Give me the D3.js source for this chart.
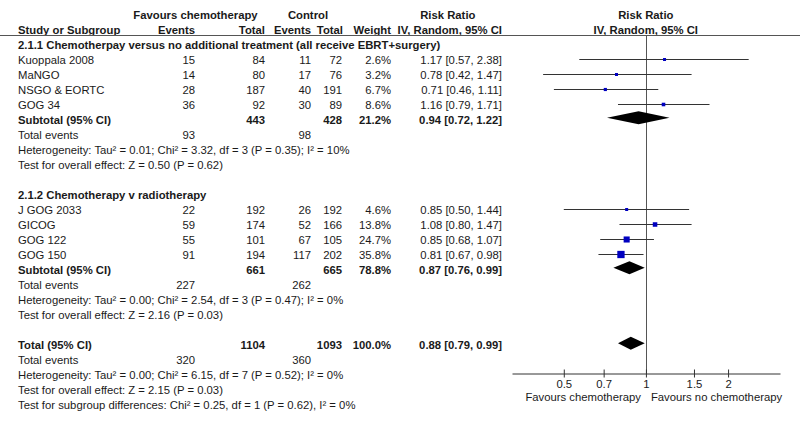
<!DOCTYPE html>
<html><head><meta charset="utf-8">
<script src="https://cdn.jsdelivr.net/npm/d3@7"></script>
<style>
body{margin:0;background:#fff}
text{font-family:"Liberation Sans",Arial,sans-serif;font-size:11.3px;fill:#1a1a1a}
text.b{font-weight:bold;font-size:11.3px}
</style>
</head><body><svg id="c" width="800" height="426"></svg>
<script>
// ---- data ----
const studyNames = ["Kuoppala 2008","MaNGO","NSGO & EORTC","GOG 34","J GOG 2033","GICOG","GOG 122","GOG 150"];
const studyGroup = [0,0,0,0,1,1,1,1];
const chemoEvents = [15,14,28,36,22,59,55,91];
const chemoTotal = [84,80,187,92,192,174,101,194];
const ctrlEvents = [11,17,40,30,26,52,67,117];
const ctrlTotal = [72,76,191,89,192,166,105,202];
const weights = [2.6,3.2,6.7,8.6,4.6,13.8,24.7,35.8];
const rr = [1.17,0.78,0.71,1.16,0.85,1.08,0.85,0.81];
const rrLo = [0.57,0.42,0.46,0.79,0.50,0.80,0.68,0.67];
const rrHi = [2.38,1.47,1.11,1.71,1.44,1.47,1.07,0.98];

const groupTitles = ["2.1.1 Chemotherpay versus no additional treatment (all receive EBRT+surgery)","2.1.2 Chemotherapy v radiotherapy"];
const subChemoTotal = [443,661];
const subCtrlTotal = [428,665];
const subWeight = [21.2,78.8];
const subRR = [0.94,0.87];
const subLo = [0.72,0.76];
const subHi = [1.22,0.99];
const subChemoEvents = [93,227];
const subCtrlEvents = [98,262];
const subHet = ["Heterogeneity: Tau\u00b2 = 0.01; Chi\u00b2 = 3.32, df = 3 (P = 0.35); I\u00b2 = 10%","Heterogeneity: Tau\u00b2 = 0.00; Chi\u00b2 = 2.54, df = 3 (P = 0.47); I\u00b2 = 0%"];
const subTest = ["Test for overall effect: Z = 0.50 (P = 0.62)","Test for overall effect: Z = 2.16 (P = 0.03)"];

const totalChemoTotal = 1104, totalCtrlTotal = 1093, totalWeight = 100.0;
const totalRR = 0.88, totalLo = 0.79, totalHi = 0.99;
const totalChemoEvents = 320, totalCtrlEvents = 360;
const totalHet = "Heterogeneity: Tau\u00b2 = 0.00; Chi\u00b2 = 6.15, df = 7 (P = 0.52); I\u00b2 = 0%";
const totalTest = "Test for overall effect: Z = 2.15 (P = 0.03)";
const subgroupTest = "Test for subgroup differences: Chi\u00b2 = 0.25, df = 1 (P = 0.62), I\u00b2 = 0%";

const tickValues = [0.5,0.7,1,1.5,2];
const leftLabel = "Favours chemotherapy", rightLabel = "Favours no chemotherapy";

// ---- layout ----
const svg = d3.select("#c");
const x = d3.scaleLog().domain([0.323,3.1]).range([512,780]);
const rowY = i => 45.3 + 15*i;
const COL = {name:18, ce:195, ct:265, ke:311, kt:342, w:391, rr:502};
const fmt2 = d3.format(".2f");
const rrText = (r,l,h) => `${fmt2(r)} [${fmt2(l)}, ${fmt2(h)}]`;

function txt(xp, yc, s, anchor, bold){
  svg.append("text").attr("x",xp).attr("y",yc+4).attr("text-anchor",anchor||"start")
    .attr("class",bold?"b":null).text(s);
}

// header
txt(195.5,15,"Favours chemotherapy","middle",true);
txt(308,15,"Control","middle",true);
txt(447.8,15,"Risk Ratio","middle",true);
txt(645.8,15,"Risk Ratio","middle",true);
txt(COL.name,30,"Study or Subgroup","start",true);
txt(COL.ce,30,"Events","end",true);
txt(COL.ct,30,"Total","end",true);
txt(311,30,"Events","end",true);
txt(343,30,"Total","end",true);
txt(COL.w,30,"Weight","end",true);
txt(COL.rr,30,"IV, Random, 95% CI","end",true);
txt(645.8,30,"IV, Random, 95% CI","middle",true);
svg.append("line").attr("x1",0).attr("x2",800).attr("y1",35.5).attr("y2",35.5).attr("stroke","#555").attr("stroke-width",1);

// vertical line at 1
const axisY = 373.5;
svg.append("line").attr("x1",Math.round(x(1))+0.5).attr("x2",Math.round(x(1))+0.5).attr("y1",36).attr("y2",axisY).attr("stroke","#555");

function diamond(r,l,h,yc){
  const hh = 6.5;
  svg.append("path").attr("d",`M${x(l)},${yc} L${x(r)},${yc-hh} L${x(h)},${yc} L${x(r)},${yc+hh} Z`).attr("fill","#000");
}

let row = 0;
[0,1].forEach(g=>{
  txt(COL.name,rowY(row),groupTitles[g],"start",true); row++;
  studyNames.forEach((n,i)=>{
    if(studyGroup[i]!==g) return;
    const yc = rowY(row);
    txt(COL.name,yc,n);
    txt(COL.ce,yc,chemoEvents[i],"end");
    txt(COL.ct,yc,chemoTotal[i],"end");
    txt(COL.ke,yc,ctrlEvents[i],"end");
    txt(COL.kt,yc,ctrlTotal[i],"end");
    txt(COL.w,yc,weights[i].toFixed(1)+"%","end");
    txt(COL.rr,yc,rrText(rr[i],rrLo[i],rrHi[i]),"end");
    const my = Math.round(yc-1.5)+0.5;
    svg.append("line").attr("x1",x(rrLo[i])).attr("x2",x(rrHi[i])).attr("y1",my).attr("y2",my).attr("stroke","#333");
    const s = Math.max(3,1.22*Math.sqrt(weights[i]));
    svg.append("rect").attr("x",x(rr[i])-s/2).attr("y",my-s/2).attr("width",s).attr("height",s).attr("fill","#0000c0");
    row++;
  });
  let yc = rowY(row);
  txt(COL.name,yc,"Subtotal (95% CI)","start",true);
  txt(COL.ct,yc,subChemoTotal[g],"end",true);
  txt(COL.kt,yc,subCtrlTotal[g],"end",true);
  txt(COL.w,yc,subWeight[g].toFixed(1)+"%","end",true);
  txt(COL.rr,yc,rrText(subRR[g],subLo[g],subHi[g]),"end",true);
  diamond(subRR[g],subLo[g],subHi[g],yc-2.5);
  row++;
  yc = rowY(row);
  txt(COL.name,yc,"Total events");
  txt(COL.ce,yc,subChemoEvents[g],"end");
  txt(COL.ke,yc,subCtrlEvents[g],"end");
  row++;
  txt(COL.name,rowY(row),subHet[g]); row++;
  txt(COL.name,rowY(row),subTest[g]); row++;
  row++;
});
let yc = rowY(row);
txt(COL.name,yc,"Total (95% CI)","start",true);
txt(COL.ct,yc,totalChemoTotal,"end",true);
txt(COL.kt,yc,totalCtrlTotal,"end",true);
txt(COL.w,yc,totalWeight.toFixed(1)+"%","end",true);
txt(COL.rr,yc,rrText(totalRR,totalLo,totalHi),"end",true);
diamond(totalRR,totalLo,totalHi,yc-2);
row++;
yc = rowY(row);
txt(COL.name,yc,"Total events");
txt(COL.ce,yc,totalChemoEvents,"end");
txt(COL.ke,yc,totalCtrlEvents,"end");
row++;
txt(COL.name,rowY(row),totalHet); row++;
txt(COL.name,rowY(row),totalTest); row++;
txt(COL.name,rowY(row),subgroupTest); row++;

// axis
const ax = svg.append("g").attr("transform",`translate(0,${axisY})`)
  .call(d3.axisBottom(x).tickValues(tickValues).tickSizeOuter(0).tickSizeInner(4).tickFormat(d=>String(d)));
ax.select(".domain").attr("stroke","#333");
ax.selectAll(".tick line").attr("y1",-4).attr("y2",4).attr("stroke","#333");
ax.selectAll(".tick text").attr("y",14).attr("dy",null).style("font-family",'"Liberation Sans",Arial,sans-serif').style("font-size","11.3px").attr("fill","#1a1a1a");
txt(x(1)-5,396.5,leftLabel,"end");
txt(x(1)+5,396.5,rightLabel,"start");
</script></body></html>
